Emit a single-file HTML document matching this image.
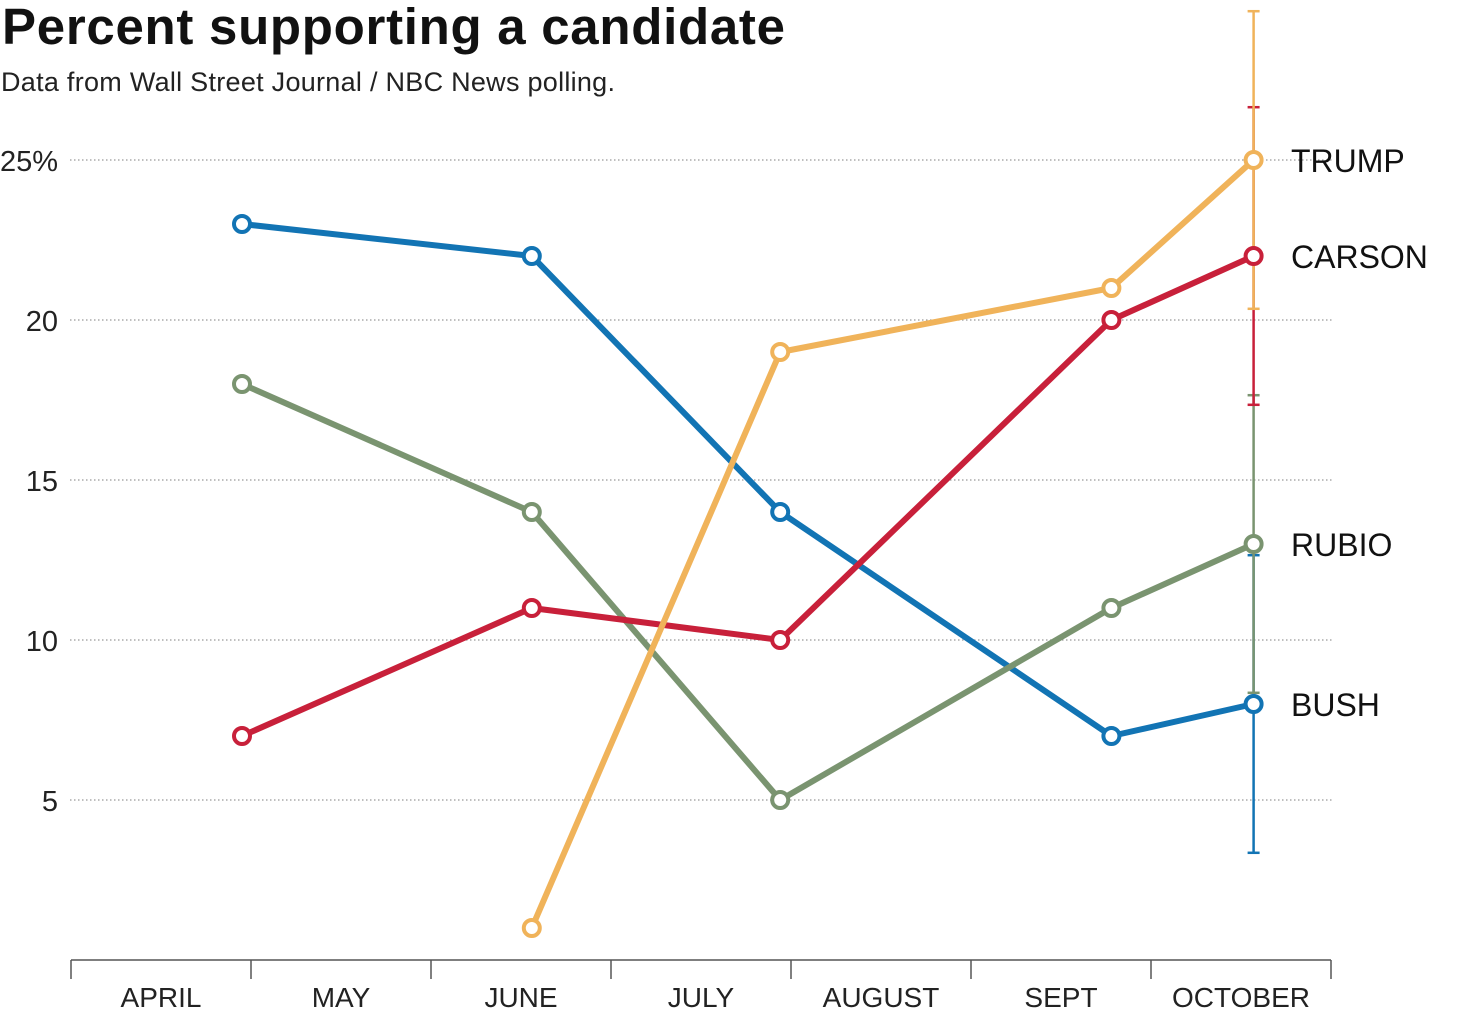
<!DOCTYPE html>
<html><head><meta charset="utf-8"><style>
body{margin:0;background:#fff;width:1484px;height:1023px;overflow:hidden}
svg text{font-family:"Liberation Sans",sans-serif}
</style></head><body>
<svg width="1484" height="1023">
<text x="2" y="44" font-size="51" font-weight="bold" fill="#111" textLength="783">Percent supporting a candidate</text>
<text x="1" y="91" font-size="27" fill="#222" textLength="614">Data from Wall Street Journal / NBC News polling.</text>
<g id="grid"></g><g id="axis"></g><g id="errs"></g><g id="series"></g><g id="labels"></g>
</svg>
<script>
const months=["APRIL","MAY","JUNE","JULY","AUGUST","SEPT","OCTOBER"];
const pollMonth=[0.95,2.56,3.94,5.78,6.57];
const yTicks=[5,10,15,20,25];
const bush=[23,22,14,7,8];
const carson=[7,11,10,20,22];
const rubio=[18,14,5,11,13];
const trump=[null,1,19,21,25];
const margin=4.65;
const ns="http://www.w3.org/2000/svg";
const X=m=>71+m*180, Y=v=>960-v*32;
function mk(t,a,p){const e=document.createElementNS(ns,t);for(const k in a)e.setAttribute(k,a[k]);p.appendChild(e);return e;}
const grid=document.getElementById('grid');
yTicks.forEach(v=>{
 const l=mk('line',{x1:70,x2:1333,y1:Y(v),y2:Y(v),stroke:'#999','stroke-width':1.2,'stroke-dasharray':'1.5,2.5'},grid);
 
 
 const t=mk('text',{x:58,y:Y(v)+11,'font-size':29,'text-anchor':'end',fill:'#222'},grid);
 t.textContent=v===25?'25%':v;
 
 
});
const axis=document.getElementById('axis');
const al=mk('line',{x1:71,x2:1331,y1:960,y2:960,stroke:'#555','stroke-width':1.5},axis);


for(let i=0;i<=months.length;i++){
 const tk=mk('line',{x1:X(i),x2:X(i),y1:960,y2:979,stroke:'#555','stroke-width':1.5},axis);
 
 
}
months.forEach((m,i)=>{
 const t=mk('text',{x:X(i+0.5),y:1007,'font-size':28,'text-anchor':'middle',fill:'#222'},axis);
 t.textContent=m;
 
 
});
const series=[["BUSH",bush,"#1274b4"],["RUBIO",rubio,"#7a9470"],["CARSON",carson,"#c8203a"],["TRUMP",trump,"#f0b35a"]];
const errs=document.getElementById('errs'),sg=document.getElementById('series'),lg=document.getElementById('labels');
series.forEach(([name,vals,c])=>{
 const last=vals[vals.length-1],lx=X(pollMonth[pollMonth.length-1]);
 const eb=mk('g',{stroke:c,'stroke-width':2.5},errs);
 
 
 mk('line',{x1:lx,x2:lx,y1:Y(last+margin),y2:Y(last-margin)},eb);
 mk('line',{x1:lx-6,x2:lx+6,y1:Y(last+margin),y2:Y(last+margin)},eb);
 mk('line',{x1:lx-6,x2:lx+6,y1:Y(last-margin),y2:Y(last-margin)},eb);
});
series.forEach(([name,vals,c])=>{
 const g=mk('g',{},sg);
 
 
 const pts=[];vals.forEach((v,i)=>{if(v!==null)pts.push([X(pollMonth[i]),Y(v)]);});
 const pl=mk('polyline',{points:pts.map(p=>p.join(',')).join(' '),fill:'none',stroke:c,'stroke-width':6,'stroke-linejoin':'round'},g);
 
 
 pts.forEach(p=>{
  const ci=mk('circle',{cx:p[0],cy:p[1],r:8,fill:'#fff',stroke:c,'stroke-width':4},g);
  
  
 });
 const last=vals[vals.length-1];
 const t=mk('text',{x:1291,y:Y(last)+12,'font-size':32,fill:'#111'},lg);
 t.textContent=name;
 
 
});
</script>
</body></html>
